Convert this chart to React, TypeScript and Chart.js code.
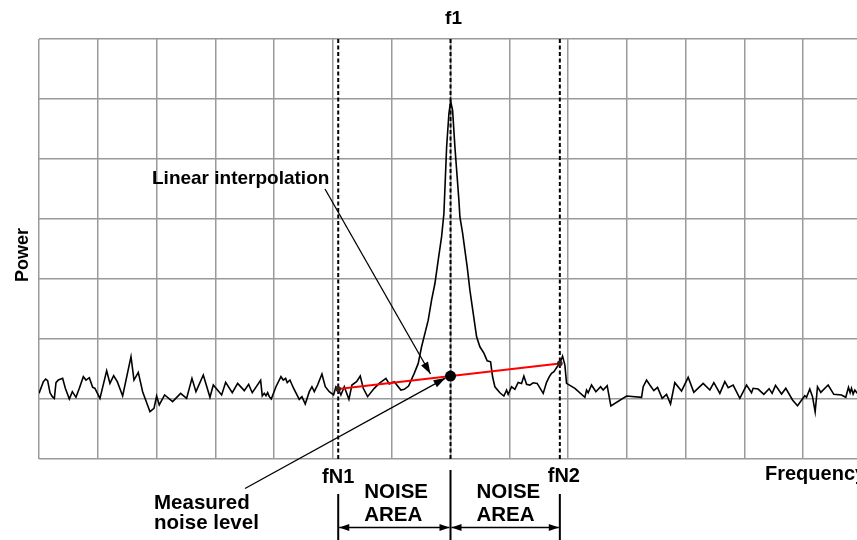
import React, { useEffect, useRef } from "react";
import { Chart, registerables } from "chart.js";

Chart.register(...registerables);

// Spectrum trace (frequency in grid divisions, power in grid divisions)
const traceFreq = [
  0, 0.074, 0.113, 0.147, 0.187, 0.227, 0.261, 0.289, 0.329, 0.402, 0.448, 0.516, 0.567, 0.629, 0.686, 0.754,
  0.799, 0.856, 0.913, 0.952, 1.037, 1.151, 1.207, 1.27, 1.332, 1.423, 1.565, 1.616, 1.689, 1.763, 1.888, 1.956,
  2.001, 2.046, 2.137, 2.273, 2.409, 2.511, 2.602, 2.67, 2.795, 2.908, 2.965, 3.107, 3.175, 3.288, 3.379, 3.492,
  3.566, 3.628, 3.77, 3.798, 3.832, 3.861, 3.889, 3.917, 3.951, 4.031, 4.116, 4.155, 4.195, 4.223, 4.269, 4.33,
  4.427, 4.473, 4.529, 4.598, 4.643, 4.683, 4.739, 4.813, 4.87, 4.938, 5.011, 5.051, 5.096, 5.136, 5.193, 5.272,
  5.323, 5.402, 5.465, 5.516, 5.59, 5.703, 5.788, 5.901, 5.958, 6.043, 6.156, 6.213, 6.287, 6.383, 6.451, 6.508,
  6.565, 6.621, 6.678, 6.735, 6.791, 6.848, 6.888, 6.934, 6.973, 7.002, 7.036, 7.075, 7.143, 7.16, 7.206, 7.245,
  7.284, 7.33, 7.386, 7.444, 7.5, 7.568, 7.624, 7.682, 7.716, 7.755, 7.84, 7.908, 7.954, 7.981, 8.039, 8.095,
  8.151, 8.209, 8.248, 8.294, 8.35, 8.406, 8.474, 8.577, 8.634, 8.679, 8.719, 8.759, 8.815, 8.861, 8.906, 8.946,
  8.974, 9.116, 9.286, 9.314, 9.342, 9.399, 9.473, 9.553, 9.597, 9.665, 9.728, 9.995, 10.25, 10.278, 10.335, 10.391,
  10.459, 10.522, 10.601, 10.675, 10.743, 10.816, 10.93, 11.043, 11.139, 11.298, 11.412, 11.48, 11.582, 11.667, 11.724, 11.808,
  11.922, 12.036, 12.121, 12.148, 12.233, 12.33, 12.42, 12.471, 12.529, 12.631, 12.704, 12.818, 12.903, 13.027, 13.056, 13.112,
  13.158, 13.203, 13.243, 13.299, 13.424, 13.52, 13.651, 13.724, 13.77, 13.798, 13.821, 13.849, 13.878, 13.912, 14.0,
];
const tracePower = [
  1.094, 1.289, 1.333, 1.305, 1.105, 1.039, 1.011, 1.272, 1.316, 1.344, 1.178, 1.0, 1.122, 1.028, 1.178, 1.372,
  1.316, 1.355, 1.194, 1.178, 1.011, 1.472, 1.261, 1.388, 1.289, 1.05, 1.705, 1.316, 1.444, 1.122, 0.789, 0.845,
  1.05, 0.9, 1.067, 0.956, 1.094, 1.011, 1.344, 1.122, 1.4, 1.028, 1.233, 1.067, 1.277, 1.105, 1.261, 1.139,
  1.244, 1.105, 1.311, 1.05, 1.094, 1.055, 1.105, 1.039, 1.0, 1.205, 1.372, 1.316, 1.344, 1.272, 1.316, 1.18,
  0.994, 1.039, 0.917, 1.122, 1.205, 1.122, 1.233, 1.416, 1.205, 1.122, 1.067, 1.205, 1.161, 1.067, 1.205, 0.994,
  1.233, 1.289, 1.383, 1.178, 1.039, 1.178, 1.261, 1.344, 1.25, 1.289, 1.15, 1.161, 1.216, 1.427, 1.593, 1.87,
  2.093, 2.314, 2.647, 2.925, 3.313, 3.701, 4.091, 5.2, 5.756, 5.966, 5.811, 5.2, 4.312, 4.034, 3.763, 3.48,
  3.202, 2.814, 2.431, 2.036, 1.87, 1.765, 1.637, 1.62, 1.37, 1.204, 1.104, 1.049, 1.149, 1.077, 1.204, 1.161,
  1.277, 1.26, 1.382, 1.244, 1.232, 1.27, 1.26, 1.094, 1.277, 1.37, 1.427, 1.454, 1.537, 1.593, 1.715, 1.565,
  1.261, 1.178, 1.028, 1.15, 1.105, 1.233, 1.122, 1.205, 1.15, 1.222, 0.883, 1.05, 1.028, 1.205, 1.316, 1.233,
  1.139, 1.194, 1.011, 1.078, 0.917, 1.272, 1.133, 1.361, 1.111, 1.261, 1.15, 1.272, 1.094, 1.289, 1.189, 1.233,
  1.011, 1.233, 1.105, 1.178, 1.166, 1.078, 1.172, 1.094, 1.228, 1.083, 1.178, 0.983, 0.889, 1.055, 1.028, 1.166,
  1.039, 0.784, 1.205, 1.111, 1.233, 1.078, 1.067, 1.028, 1.194, 1.105, 1.178, 1.083, 1.15, 1.105, 1.15,
];

// Marker frequencies
const fN1 = 5.09;
const f1 = 7.0;
const fN2 = 8.86;
// Noise power read at the noise-area edges
const noiseAtFN1 = 1.166;
const noiseAtFN2 = 1.593;

// Axis ranges (grid divisions)
const xDivisions = 14;
const yDivisions = 7;

// Text labels
const peakLabel = "f1";
const edgeLabels = ["fN1", "fN2"];
const areaLabel = ["NOISE", "AREA"];
const interpLabel = "Linear interpolation";
const measuredLabel = ["Measured", "noise level"];
const xTitle = "Frequency";
const yTitle = "Power";

const measuredNoise = noiseAtFN1 + ((f1 - fN1) / (fN2 - fN1)) * (noiseAtFN2 - noiseAtFN1);

const FONT = '"Liberation Sans", Arial, Helvetica, sans-serif';

function arrowHead(ctx: CanvasRenderingContext2D, x0: number, y0: number, x1: number, y1: number, len: number, half: number) {
  const a = Math.atan2(y1 - y0, x1 - x0);
  ctx.beginPath();
  ctx.moveTo(x1, y1);
  ctx.lineTo(x1 - len * Math.cos(a) + half * Math.sin(a), y1 - len * Math.sin(a) - half * Math.cos(a));
  ctx.lineTo(x1 - len * Math.cos(a) - half * Math.sin(a), y1 - len * Math.sin(a) + half * Math.cos(a));
  ctx.closePath();
  ctx.fill();
}

function arrowLine(ctx: CanvasRenderingContext2D, x0: number, y0: number, x1: number, y1: number, len: number, half: number, both: boolean) {
  ctx.beginPath();
  ctx.moveTo(x0, y0);
  ctx.lineTo(x1, y1);
  ctx.stroke();
  arrowHead(ctx, x0, y0, x1, y1, len, half);
  if (both) arrowHead(ctx, x1, y1, x0, y0, len, half);
}

const annotationPlugin = {
  id: "noiseAnnotations",
  afterDraw(chart: any) {
    const ctx: CanvasRenderingContext2D = chart.ctx;
    const xs = chart.scales.x;
    const ys = chart.scales.y;
    const area = chart.chartArea;
    const xN1 = xs.getPixelForValue(fN1);
    const xF1 = xs.getPixelForValue(f1);
    const xN2 = xs.getPixelForValue(fN2);
    const yMeas = ys.getPixelForValue(measuredNoise);

    ctx.save();
    ctx.fillStyle = "#000";
    ctx.strokeStyle = "#000";
    ctx.textBaseline = "alphabetic";

    // f1 label
    ctx.font = `bold 19px ${FONT}`;
    ctx.textAlign = "center";
    ctx.fillText(peakLabel, xF1 + 3, area.top - 15);

    // Linear interpolation
    ctx.textAlign = "left";
    ctx.font = `bold 19px ${FONT}`;
    ctx.fillText(interpLabel, 152, 184);

    // Power (rotated)
    ctx.save();
    ctx.translate(28, 255);
    ctx.rotate(-Math.PI / 2);
    ctx.textAlign = "center";
    ctx.font = `bold 18px ${FONT}`;
    ctx.fillText(yTitle, 0, 0);
    ctx.restore();

    // fN1 / fN2
    ctx.font = `bold 20px ${FONT}`;
    ctx.textAlign = "center";
    ctx.fillText(edgeLabels[0], xN1, area.bottom + 24);
    ctx.fillText(edgeLabels[1], xN2 + 4, area.bottom + 23);

    // Frequency
    ctx.textAlign = "left";
    ctx.fillText(xTitle, 765, area.bottom + 21);

    // NOISE AREA labels
    ctx.font = `bold 20.5px ${FONT}`;
    ctx.fillText(areaLabel[0], xN1 + 26, area.bottom + 38.5);
    ctx.fillText(areaLabel[1], xN1 + 26, area.bottom + 61.5);
    ctx.fillText(areaLabel[0], xF1 + 26, area.bottom + 38.5);
    ctx.fillText(areaLabel[1], xF1 + 26, area.bottom + 61.5);

    // Measured noise level
    ctx.fillText(measuredLabel[0], 154, 509);
    ctx.fillText(measuredLabel[1], 154, 529);

    // Vertical bars under the chart
    ctx.lineWidth = 2;
    ctx.beginPath();
    ctx.moveTo(xN1, area.bottom + 35);
    ctx.lineTo(xN1, 540);
    ctx.moveTo(xF1, area.bottom + 11);
    ctx.lineTo(xF1, 540);
    ctx.moveTo(xN2, area.bottom + 35);
    ctx.lineTo(xN2, 540);
    ctx.stroke();

    // Horizontal double arrows
    ctx.lineWidth = 1.5;
    const yArr = area.bottom + 68.5;
    arrowLine(ctx, xN1 + 1, yArr, xF1 - 1, yArr, 10, 3.5, true);
    arrowLine(ctx, xF1 + 1, yArr, xN2 - 1, yArr, 10, 3.5, true);

    // Leader arrows
    ctx.lineWidth = 1.3;
    arrowLine(ctx, 325, 189, 430.5, 374, 12, 4, false);
    arrowLine(ctx, 245, 488.5, xF1 - 5, yMeas + 2, 12, 4, false);

    ctx.restore();
  },
};

export default function App() {
  const canvasRef = useRef<HTMLCanvasElement | null>(null);

  useEffect(() => {
    const canvas = canvasRef.current;
    if (!canvas) return;
    const tracePoints = traceFreq.map((x, i) => ({ x, y: tracePower[i] }));
    const dashed = (f: number) => [
      { x: f, y: 0 },
      { x: f, y: yDivisions },
    ];
    const dashStyle = {
      showLine: true,
      borderColor: "#000",
      borderWidth: 2,
      borderDash: [4, 2.5],
      pointRadius: 0,
      order: 3,
    };
    const chart = new Chart(canvas, {
      type: "scatter",
      data: {
        datasets: [
          {
            data: [{ x: f1, y: measuredNoise }],
            pointRadius: 5.5,
            pointBackgroundColor: "#000",
            pointBorderWidth: 0,
            showLine: false,
            order: 0,
          },
          {
            data: [
              { x: fN1, y: noiseAtFN1 },
              { x: fN2, y: noiseAtFN2 },
            ],
            showLine: true,
            borderColor: "#ff0000",
            borderWidth: 2,
            pointRadius: 2.8,
            pointBackgroundColor: "#3a2020",
            pointBorderWidth: 0,
            order: 1,
          },
          {
            data: tracePoints,
            showLine: true,
            borderColor: "#000",
            borderWidth: 1.6,
            pointRadius: 0,
            tension: 0,
            order: 2,
          },
          { data: dashed(fN1), ...dashStyle },
          { data: dashed(f1), ...dashStyle },
          { data: dashed(fN2), ...dashStyle },
        ],
      },
      options: {
        responsive: false,
        animation: false,
        events: [],
        layout: { padding: { left: 39, top: 39, right: 8, bottom: 81 } },
        plugins: {
          legend: { display: false },
          tooltip: { enabled: false },
          title: { display: false },
        },
        scales: {
          x: {
            type: "linear",
            min: 0,
            max: xDivisions,
            ticks: { display: false, stepSize: 1 },
            grid: { color: "#9a9a9a", lineWidth: 1.5, drawTicks: false },
            border: { display: false },
          },
          y: {
            type: "linear",
            min: 0,
            max: yDivisions,
            ticks: { display: false, stepSize: 1 },
            grid: { color: "#9a9a9a", lineWidth: 1.5, drawTicks: false },
            border: { display: false },
          },
        },
      },
      plugins: [annotationPlugin],
    });
    return () => chart.destroy();
  }, []);

  return (
    <div style={{ position: "absolute", left: 0, top: 0, width: 857, height: 540, overflow: "hidden", background: "#fff" }}>
      <canvas ref={canvasRef} width={870} height={540} style={{ display: "block", width: 870, height: 540 }} />
    </div>
  );
}
